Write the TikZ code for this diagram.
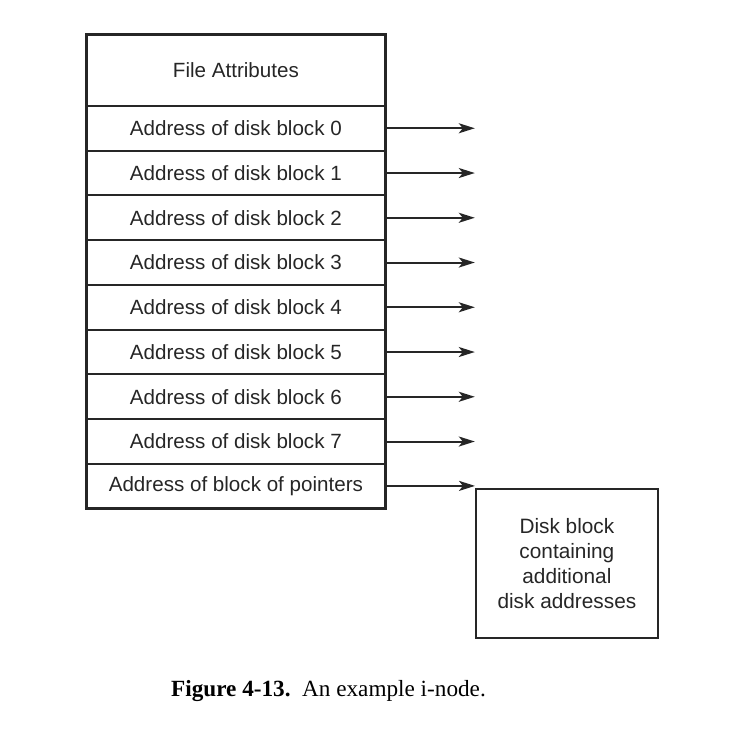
\documentclass[tikz,border=0pt]{standalone}
\usepackage{fontspec}
\setmainfont{Liberation Serif}
\setsansfont{Liberation Sans}
\usetikzlibrary{arrows.meta}
\begin{document}
\begin{tikzpicture}[x=1pt,y=-1pt,
  frame/.style={draw=black!85, line width=1.8pt},
  cell/.style={frame, minimum width=298pt, inner sep=0pt,
               font=\sffamily\fontsize{20.6}{24}\selectfont, text=black!85},
  ptr/.style={-{Stealth[length=16pt,width=10pt,inset=4pt]}, line width=2pt, draw=black!85},
  blockbox/.style={frame, minimum width=182pt, minimum height=149pt,
               inner sep=0pt, align=center, font=\sffamily\fontsize{20.8}{25}\selectfont, text=black!85}]
  \useasboundingbox (0,0) rectangle (748,746);
  % i-node table
  \node[cell, minimum height=71pt, anchor=north west] (attr) at (86,34) {File Attributes};
  \foreach \i in {0,...,7}{
    \node[cell, minimum height=44.75pt, anchor=north west] (b\i) at (86,105+44.75*\i) {Address of disk block \i};
  }
  \node[cell, minimum height=44pt, anchor=north west] (ind) at (86,463) {Address of block of pointers};
  % outer frame of the table
  \draw[frame] (attr.north west) rectangle (ind.south east);
  % direct pointers
  \foreach \i in {0,...,7}{
    \coordinate (t\i) at ([xshift=89pt]b\i.east);
    \draw[ptr] (b\i.east) -- (t\i);
  }
  % indirect block
  \node[blockbox, anchor=north west] (extra) at (475,488)
    {Disk block\\containing\\additional\\disk addresses};
  \coordinate (tind) at (extra.north west);
  \draw[ptr] (ind.east) -- (ind.east -| tind);
  % caption
  \node[font=\fontsize{23.2}{27}\selectfont, anchor=base] (cap) at (328.5,696)
    {\textbf{Figure 4-13.}\ \ An example i-node.};
\end{tikzpicture}
\end{document}
